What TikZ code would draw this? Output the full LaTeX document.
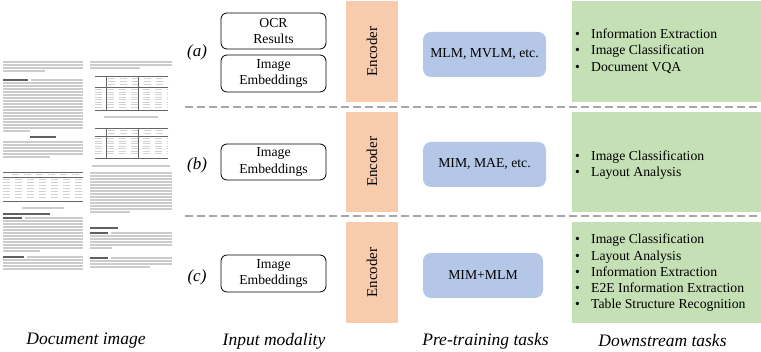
\documentclass[tikz,border=0pt]{standalone}
\usepackage{fontspec}
\setmainfont{Liberation Serif}
\usetikzlibrary{positioning}

\definecolor{encpeach}{RGB}{248,203,173}
\definecolor{taskblue}{RGB}{180,199,231}
\definecolor{downgreen}{RGB}{197,224,180}

\newcommand{\bitem}[1]{\makebox[16pt][l]{\textbullet}#1}

\begin{document}
\begin{tikzpicture}[x=1pt, y=-1pt,
    boxfont/.style={font=\fontsize{13.7}{16.3}\selectfont},
    inbox/.style={draw, rounded corners=6pt, line width=0.8pt, fill=white, minimum width=105pt, minimum height=36pt, align=center, inner sep=0pt, boxfont},
    encbox/.style={fill=encpeach, rotate=90, minimum width=101pt, minimum height=52pt, inner sep=0pt, font=\fontsize{15}{18}\selectfont},
    ptbox/.style={fill=taskblue, rounded corners=8pt, minimum width=123pt, minimum height=45pt, inner sep=0pt, boxfont},
    dsbox/.style={fill=downgreen, minimum width=189pt, minimum height=101pt, inner sep=0pt},
    dslist/.style={anchor=west, align=left, inner sep=0pt, boxfont},
    rowlabel/.style={font=\fontsize{17}{20}\selectfont\itshape},
    colcaption/.style={font=\fontsize{17.5}{20}\selectfont\itshape},
    sepline/.style={gray!70, line width=1.6pt, dash pattern=on 8pt off 4pt},
    docline/.style={gray!40, line width=1.2pt},
    dochead/.style={gray!75!black, line width=1.3pt},
    docrule/.style={black!60, line width=0.4pt},
    docrow/.style={gray!35, line width=1pt, dash pattern=on 7pt off 5pt},
  ]
  \useasboundingbox (0,0) rectangle (761,352);

  % document thumbnail, left column
  \foreach \y in {62,65,68} \draw[docline] (3,\y) -- (83,\y);
  \draw[docline] (3,71) -- (45,71);
  \draw[dochead] (3,80) -- (28,80);
  \draw[docline] (31,80) -- (83,80);
  \foreach \y in {83,86,...,128} \draw[docline] (3,\y) -- (83,\y);
  \draw[docline] (3,131) -- (30,131);
  \draw[dochead] (30,137) -- (56,137);
  \foreach \y in {142,145,...,154} \draw[docline] (3,\y) -- (83,\y);
  \draw[docline] (3,157) -- (50,157);
  \draw[docrule] (3,172) -- (83,172);
  \draw[docrow] (12,175) -- (83,175);
  \draw[docrule] (3,177.5) -- (83,177.5);
  \foreach \y in {180,183,...,198} \draw[docrow] (3,\y) -- (83,\y);
  \draw[docrule] (3,201) -- (83,201);
  \draw[docline] (22,208) -- (64,208);
  \draw[dochead] (3,214) -- (50,214);
  \draw[dochead] (3,218) -- (22,218);
  \draw[docline] (25,218) -- (83,218);
  \foreach \y in {221,224,...,248} \draw[docline] (3,\y) -- (83,\y);
  \draw[docline] (3,251) -- (40,251);
  \draw[dochead] (3,257) -- (24,257);
  \draw[docline] (27,257) -- (83,257);
  \foreach \y in {260,263,266,269} \draw[docline] (3,\y) -- (83,\y);

  % document thumbnail, right column
  \foreach \y in {62,65} \draw[docline] (90,\y) -- (172,\y);
  \draw[docline] (90,68) -- (140,68);
  \draw[docrule] (95,76) -- (168,76);
  \foreach \y in {79,82,85} \draw[docrow] (108,\y) -- (168,\y);
  \draw[docrule] (95,87.5) -- (168,87.5);
  \foreach \y in {90,92.5,...,107.5} \draw[docrow] (95,\y) -- (168,\y);
  \draw[docrule] (95,110) -- (168,110);
  \foreach \x in {106,138} \draw[docrule] (\x,76) -- (\x,110);
  \draw[docline] (104,117) -- (158,117);
  \draw[docrule] (95,128) -- (168,128);
  \foreach \y in {131,134} \draw[docrow] (108,\y) -- (168,\y);
  \draw[docrule] (95,136.5) -- (168,136.5);
  \foreach \y in {139,141.5,...,154} \draw[docrow] (95,\y) -- (168,\y);
  \draw[docrule] (95,158) -- (168,158);
  \foreach \x in {106,138} \draw[docrule] (\x,128) -- (\x,158);
  \draw[docline] (92,166) -- (170,166);
  \foreach \y in {173,176,...,209} \draw[docline] (90,\y) -- (172,\y);
  \draw[docline] (90,212) -- (130,212);
  \draw[dochead] (90,228) -- (118,228);
  \draw[dochead] (90,233) -- (108,233);
  \draw[docline] (111,233) -- (172,233);
  \foreach \y in {236,239,242,245} \draw[docline] (90,\y) -- (172,\y);
  \draw[docline] (90,248) -- (112,248);
  \draw[dochead] (90,258) -- (108,258);
  \draw[docline] (111,258) -- (172,258);
  \foreach \y in {261,264} \draw[docline] (90,\y) -- (172,\y);
  \draw[docline] (90,267) -- (150,267);

  % row separators
  \draw[sepline] (185,107) -- (761,107);
  \draw[sepline] (185,216) -- (761,216);

  % row (a)
  \node[rowlabel] (laba) at (197,52) {(a)};
  \node[inbox] (ocra) at (273.5,31) {OCR\\Results};
  \node[inbox, minimum height=37pt] (imga) at (273.5,73.5) {Image\\Embeddings};
  \node[encbox] (enca) at (372,51.5) {Encoder};
  \node[ptbox] (pta) at (484.5,54.5) {MLM, MVLM, etc.};
  \node[dsbox] (dsa) at (666.5,51.5) {};
  \node[dslist] (lista) at (575,51) {\bitem{Information Extraction}\\\bitem{Image Classification}\\\bitem{Document VQA}};

  % row (b)
  \node[rowlabel] (labb) at (197,165) {(b)};
  \node[inbox] (imgb) at (273.5,162) {Image\\Embeddings};
  \node[encbox, minimum width=100pt] (encb) at (372,162) {Encoder};
  \node[ptbox] (ptb) at (484.5,164.5) {MIM, MAE, etc.};
  \node[dsbox, minimum height=100pt] (dsb) at (666.5,162) {};
  \node[dslist] (listb) at (575,165.5) {\bitem{Image Classification}\\\bitem{Layout Analysis}};

  % row (c)
  \node[rowlabel] (labc) at (197,277) {(c)};
  \node[inbox, minimum height=37pt] (imgc) at (273.5,273.5) {Image\\Embeddings};
  \node[encbox] (encc) at (372,272.5) {Encoder};
  \node[ptbox, minimum width=120pt] (ptc) at (483,275.5) {MIM+MLM};
  \node[dsbox] (dsc) at (666.5,272.5) {};
  \node[dslist] (listc) at (575,273) {\bitem{Image Classification}\\\bitem{Layout Analysis}\\\bitem{Information Extraction}\\\bitem{E2E Information Extraction}\\\bitem{Table Structure Recognition}};

  % column captions
  \node[colcaption] (capdoc) at (86,341) {Document image};
  \node[colcaption] (capin) at (274,341) {Input modality};
  \node[colcaption] (cappt) at (485.5,341) {Pre-training tasks};
  \node[colcaption] (capds) at (662.5,341) {Downstream tasks};
\end{tikzpicture}
\end{document}
